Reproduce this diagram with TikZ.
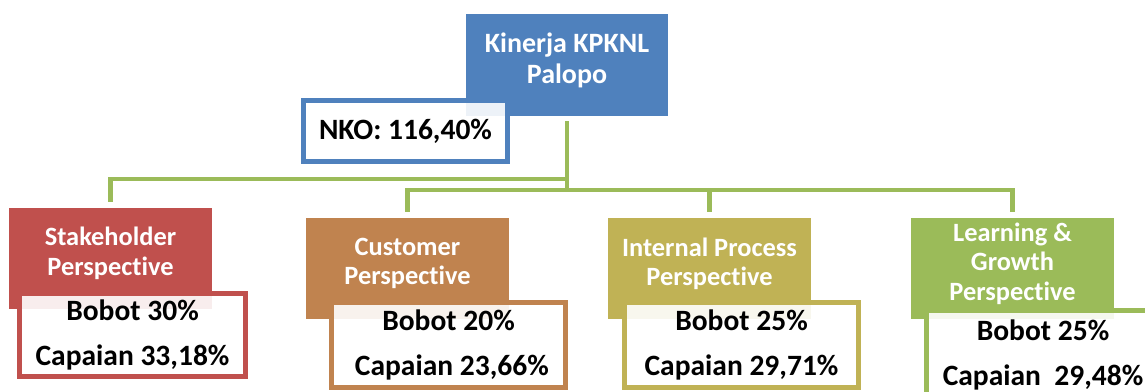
\documentclass[tikz,border=0pt]{standalone}
\usepackage{fontspec}
\setmainfont{Carlito}[Ligatures=NoCommon]
\definecolor{cblue}{HTML}{4F81BD}
\definecolor{cred}{HTML}{C0504D}
\definecolor{corange}{HTML}{C0834F}
\definecolor{colive}{HTML}{C0B255}
\definecolor{cgreen}{HTML}{9BBB59}
\newcommand\lowstrut{\rule[-14pt]{0pt}{14pt}}
\tikzset{
  headbox/.style={fill=#1, draw=none, minimum width=203pt, minimum height=101pt,
    inner sep=0pt, align=center, text=white, font=\bfseries\fontsize{26.4}{29.5}\selectfont},
  valbox/.style={draw=#1, line width=4.7pt, fill=white, fill opacity=0.9, text opacity=1,
    inner sep=0pt, align=center, text=black, font=\bfseries\fontsize{29.5}{45}\selectfont},
  conn/.style={draw=cgreen, line width=4.5pt}
}
\begin{document}
\begin{tikzpicture}[x=1pt,y=-1pt]
\useasboundingbox (0,0) rectangle (1145,391);
\clip (0,0) rectangle (1145,391);
% top
\node[headbox=cblue, minimum width=202pt, minimum height=102pt, font=\bfseries\fontsize{28}{31}\selectfont] (top) at (567,65) {Kinerja KPKNL\\Palopo\lowstrut};
\node[valbox=cblue, line width=5pt, minimum width=204pt, minimum height=61pt] (nko) at (405.5,131) {NKO: 116,40\%};
% junctions
\coordinate (j1) at (567,179);
\coordinate (j2) at (567,190);
% perspective boxes
\node[headbox=cred] (stake) at (110.5,258) {Stakeholder\\Perspective\lowstrut};
\node[headbox=corange] (cust) at (407.5,268.5) {Customer\\Perspective\lowstrut};
\node[headbox=colive] (intl) at (709.5,268.5) {Internal Process\\Perspective\lowstrut};
\node[headbox=cgreen] (lg) at (1012.5,268.5) {Learning \&\\Growth\\Perspective\lowstrut};
% connectors
\draw[conn, shorten <=5pt] (top.south) -- (j2);
\draw[conn, shorten >=5pt] (j1) -| (stake.north);
\draw[conn, shorten >=6pt] (j2) -| (cust.north);
\draw[conn, shorten >=6pt] (j2) -| (intl.north);
\draw[conn, shorten >=6pt] (j2) -| (lg.north);
% value boxes
\node[valbox=cred, minimum width=226pt, minimum height=83pt] (stakev) at (132.5,335) {Bobot 30\%\\Capaian 33,18\%};
\node[valbox=corange, minimum width=234pt, minimum height=85pt] (custv) at (448.5,345) {Bobot 20\%\\\ Capaian 23,66\%};
\node[valbox=colive, minimum width=234pt, minimum height=85pt] (intlv) at (741.5,345) {Bobot 25\%\\Capaian 29,71\%};
\node[valbox=cgreen, minimum width=233pt, minimum height=89pt] (lgv) at (1043,355) {Bobot 25\%\\Capaian\ \ 29,48\%};
\end{tikzpicture}
\end{document}
